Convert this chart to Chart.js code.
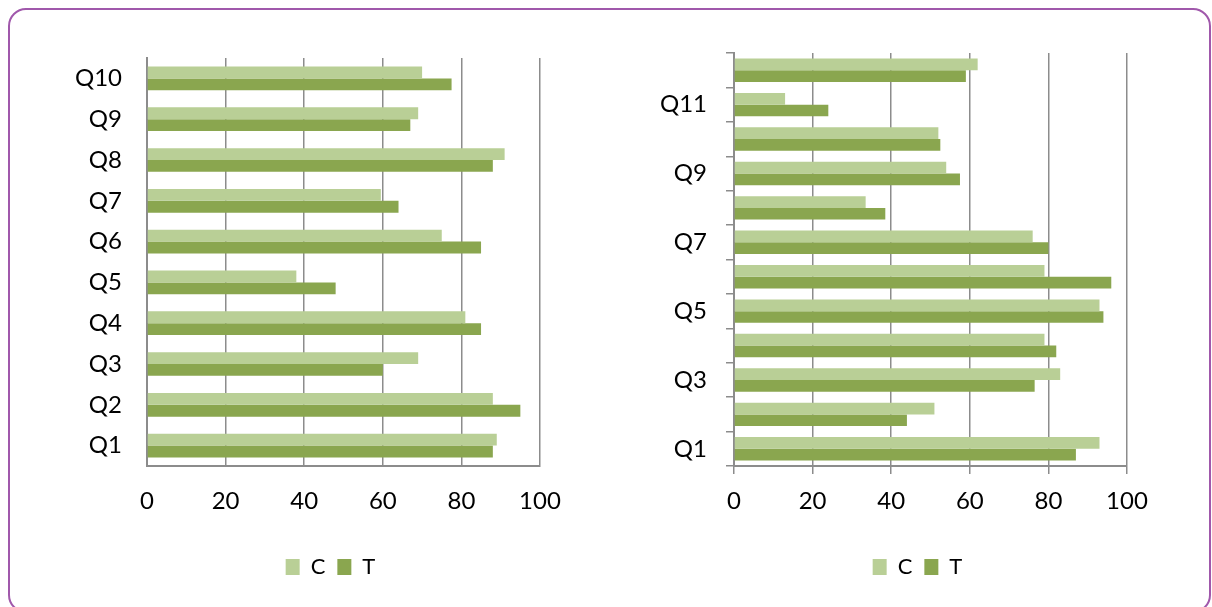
<!DOCTYPE html>
<html>
<head>
<meta charset="utf-8">
<script src="https://cdn.jsdelivr.net/npm/chart.js@4.4.0/dist/chart.umd.min.js"></script>
<style>
  html, body { margin: 0; padding: 0; background: #fff; width: 1212px; height: 607px; overflow: hidden; }
  .frame {
    position: absolute; left: 8px; top: 8px; width: 1203px; height: 605px;
    border: 2.5px solid #a058ab; border-radius: 18px; box-sizing: border-box;
  }
  canvas { position: absolute; top: 0; }
  #leftchart { left: 0; }
  #rightchart { left: 624px; }
</style>
</head>
<body>
<div class="frame"></div>
<canvas id="leftchart" width="660" height="607"></canvas>
<canvas id="rightchart" width="588" height="607"></canvas>
<script>
// question scores, group C and group T
const leftLabels = ['Q1', 'Q2', 'Q3', 'Q4', 'Q5', 'Q6', 'Q7', 'Q8', 'Q9', 'Q10'];
const leftC = [89, 88, 69, 81, 38, 75, 59.5, 91, 69, 70];
const leftT = [88, 95, 60, 85, 48, 85, 64, 88, 67, 77.5];

const rightLabels = ['Q1', 'Q2', 'Q3', 'Q4', 'Q5', 'Q6', 'Q7', 'Q8', 'Q9', 'Q10', 'Q11', 'Q12'];
const rightC = [93, 51, 83, 79, 93, 79, 76, 33.5, 54, 52, 13, 62];
const rightT = [87, 44, 76.5, 82, 94, 96, 80, 38.5, 57.5, 52.5, 24, 59];

const xTicks = [0, 20, 40, 60, 80, 100];

const colC = '#b9cf96';
const colT = '#8aa64f';
const lineCol = '#8c8c8c';
const fontFamily = 'Lato, "Open Sans", sans-serif';

// nudges the legend sideways after layout
const legendShift = {
  id: 'legendShift',
  afterLayout(chart, args, opts) {
    const lg = chart.legend;
    if (!lg) return;
    lg.left += opts.dx;
    lg.right += opts.dx;
  }
};

function makeChart(id, labels, c, t, cfg) {
  const ctx = document.getElementById(id);
  return new Chart(ctx, {
    type: 'bar',
    plugins: [legendShift],
    data: {
      labels: labels,
      datasets: [
        { label: 'C', data: c, backgroundColor: colC, categoryPercentage: cfg.catPct, barPercentage: 1 },
        { label: 'T', data: t, backgroundColor: colT, categoryPercentage: cfg.catPct, barPercentage: 1 }
      ]
    },
    options: {
      indexAxis: 'y',
      responsive: false,
      animation: false,
      layout: {
        padding: { top: cfg.top, right: cfg.right, bottom: cfg.bottom, left: 0 }
      },
      scales: {
        x: {
          min: 0,
          max: 100,
          afterBuildTicks: (scale) => { scale.ticks = xTicks.map(v => ({ value: v })); },
          afterFit: (scale) => { scale.height = 78; },
          grid: { color: lineCol, lineWidth: 1.5, drawTicks: cfg.ticks, tickLength: 8, tickColor: lineCol },
          border: { color: lineCol, width: 2 },
          ticks: { color: '#000', font: { family: fontFamily, size: 24 }, padding: cfg.ticks ? 13 : 21, maxRotation: 0 }
        },
        y: {
          reverse: true,
          afterFit: (scale) => { scale.width = cfg.yWidth; },
          grid: cfg.ticks
            ? { drawOnChartArea: false, drawTicks: true, tickLength: 8, color: lineCol, lineWidth: 1.5 }
            : { display: false },
          border: { color: lineCol, width: 2 },
          ticks: {
            autoSkip: false,
            color: '#000',
            padding: cfg.ticks ? 19 : 17,
            font: { family: fontFamily, size: 24 },
            callback: function(value, index) {
              if (cfg.everyOther && index % 2 === 1) return '';
              return this.getLabelForValue(value);
            }
          }
        }
      },
      plugins: {
        legendShift: { dx: -13 },
        legend: {
          position: 'bottom',
          fullSize: false,
          labels: {
            boxWidth: 14,
            boxHeight: 16,
            padding: 12,
            color: '#000',
            font: { family: fontFamily, size: 22 }
          }
        },
        tooltip: { enabled: false }
      }
    }
  });
}

makeChart('leftchart', leftLabels, leftC, leftT,
  { catPct: 0.58, top: 58, right: 120, bottom: 19, yWidth: 147, ticks: false, everyOther: false });
makeChart('rightchart', rightLabels, rightC, rightT,
  { catPct: 0.68, top: 53, right: 85, bottom: 19, yWidth: 110, ticks: true, everyOther: true });
</script>
</body>
</html>
